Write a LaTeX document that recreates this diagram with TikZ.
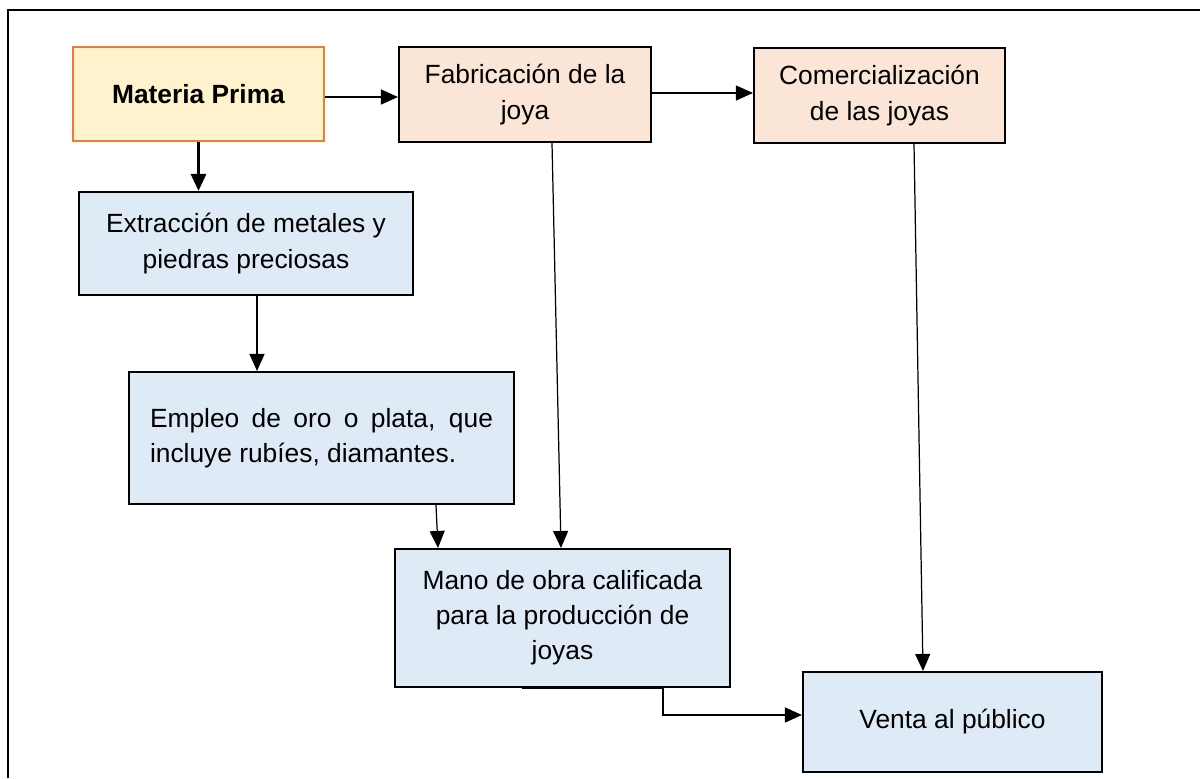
\documentclass[tikz,border=0pt]{standalone}
\usepackage{fontspec}
\setmainfont{Liberation Sans}
\usetikzlibrary{arrows.meta}

\newcommand{\pixel}{0.02cm}

\definecolor{amarillo}{HTML}{FFF2CC}
\definecolor{naranja}{HTML}{ED7D31}
\definecolor{durazno}{HTML}{FBE5D6}
\definecolor{celeste}{HTML}{DEEBF7}

\tikzset{
    caja/.style = {draw, line width = 1.2pt, inner sep = 0pt, align = center,
        font = \fontsize{15}{20}\selectfont},
    flecha/.style = {-{Triangle[length = 0.34cm, width = 0.3cm]}, line width = 0.7pt}
}

\begin{document}
\begin{tikzpicture}[x = \pixel, y = -\pixel]
        \useasboundingbox (0, 0) rectangle (1200, 778);
        \draw[line width = 0.85pt] (8, 778) -- (8, 10) -- (1200, 10);

        \node[caja, draw = naranja, fill = amarillo, minimum width = 251*\pixel, minimum height = 94*\pixel,
            font = \fontsize{15}{20}\selectfont\bfseries] (prima) at (198.5, 94) {Materia Prima};
        \node[caja, fill = durazno, minimum width = 252*\pixel, minimum height = 95*\pixel]
            (fabricacion) at (525, 94.5) {Fabricación de la\\joya};
        \node[caja, fill = durazno, minimum width = 251*\pixel, minimum height = 95*\pixel]
            (comercio) at (879.5, 95.5) {Comercialización\\de las joyas};

        \node[caja, fill = celeste, minimum width = 334*\pixel, minimum height = 103*\pixel]
            (extraccion) at (246, 243.5) {Extracción de metales y\\piedras preciosas};
        \node[caja, fill = celeste, minimum width = 385*\pixel, minimum height = 132*\pixel,
            text width = 343*\pixel, align = justify]
            (empleo) at (321.5, 438) {Empleo de oro o plata, que\linebreak incluye rubíes, diamantes.};
        \node[caja, fill = celeste, minimum width = 335*\pixel, minimum height = 138*\pixel]
            (mano) at (562.5, 618) {Mano de obra calificada\\para la producción de\\joyas};
        \node[caja, fill = celeste, minimum width = 299*\pixel, minimum height = 100*\pixel]
            (venta) at (952.5, 722) {Venta al público};

        \begin{scope}[flecha]
            \draw (prima.east |- 0, 97) -- (fabricacion.west |- 0, 97);
            \draw (fabricacion.east |- 0, 93) -- (comercio.west |- 0, 93);
            \draw[line width = 1.7pt] (prima.south) -- (prima.south |- extraccion.north);
            \draw (extraccion.south -| 257, 0) -- (257, 0 |- empleo.north);
            \draw (empleo.south -| 436, 0) -- (438, 0 |- mano.north);
            \draw (fabricacion.south -| 552, 0) -- (561, 0 |- mano.north);
            \draw (comercio.south -| 914, 0) -- (923, 0 |- venta.north);
            \draw (mano.south -| 522, 0) -- (663, 0 |- mano.south) -- (663, 715) -- (venta.west |- 0, 715);
        \end{scope}
    \end{tikzpicture}
\end{document}
